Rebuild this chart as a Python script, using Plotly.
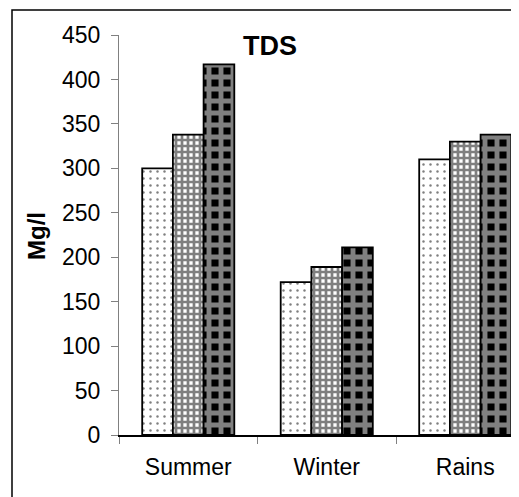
import plotly.graph_objects as go

categories = ["Summer", "Winter", "Rains"]
series_names = ["Series1", "Series2", "Series3"]
series1 = [300, 172, 310]
series2 = [338, 189, 330]
series3 = [417, 211, 338]
y_ticks = [0, 50, 100, 150, 200, 250, 300, 350, 400, 450]

FONT = "Arial, Liberation Sans, sans-serif"

patterns = [
    dict(shape=".", fgcolor="black", bgcolor="white", size=7, solidity=0.1),
    dict(shape="+", fgcolor="black", bgcolor="white", size=6, solidity=0.7),
    dict(shape="+", fgcolor="white", bgcolor="black", size=12, solidity=0.65),
]

fig = go.Figure()
for name, vals, pat in zip(series_names, [series1, series2, series3], patterns):
    fig.add_trace(go.Bar(
        x=categories, y=vals, name=name,
        marker=dict(color="white", line=dict(color="black", width=1.8), pattern=pat),
    ))

# page has an 8px body margin; figure coordinates = page coordinates - 8
OFF = 8
W, H = 519 - OFF, 497 - OFF
L, R, T, B = 119 - OFF, 0, 35 - OFF, 62
pw, ph = W - L - R, H - T - B


def px(xpage):
    return (xpage - OFF - L) / pw


def py(ypage):
    return (H - B - (ypage - OFF)) / ph


fig.update_layout(
    width=W, height=H,
    margin=dict(l=L, r=R, t=T, b=B, pad=0, autoexpand=False),
    paper_bgcolor="white", plot_bgcolor="white",
    barmode="group", bargap=0.335, bargroupgap=0,
    showlegend=False,
    font=dict(family=FONT, size=23, color="black"),
    xaxis=dict(
        range=[-0.5, -0.5 + pw / 138.5],
        showline=True, linecolor="black", linewidth=1.5,
        ticks="outside", tickson="boundaries", ticklen=7, tickcolor="#808080", tickwidth=1.2,
        showgrid=False, zeroline=False,
        tickfont=dict(family=FONT, size=23, color="black"),
        ticklabelstandoff=11,
    ),
    yaxis=dict(
        range=[0, 450], tickvals=y_ticks,
        showline=True, linecolor="#808080", linewidth=1.2,
        ticks="outside", ticklen=7, tickcolor="#808080", tickwidth=1.2,
        showgrid=False, zeroline=False,
        tickfont=dict(family=FONT, size=23, color="black"),
        ticklabelstandoff=6,
    ),
    annotations=[
        dict(text="<b>TDS</b>", xref="paper", yref="paper",
             x=px(270), y=py(46), xanchor="center", yanchor="middle",
             showarrow=False, font=dict(family=FONT, size=27, color="black")),
        dict(text="<b>Mg/l</b>", xref="paper", yref="paper", textangle=-90,
             x=px(37), y=py(236), xanchor="center", yanchor="middle",
             showarrow=False, font=dict(family=FONT, size=24, color="black")),
    ],
    shapes=[
        dict(type="rect", xref="paper", yref="paper",
             x0=px(12), x1=1.2, y0=-0.3, y1=py(10),
             line=dict(color="black", width=1.5), fillcolor="rgba(0,0,0,0)", layer="below"),
    ],
)

fig.write_html("out.html")
